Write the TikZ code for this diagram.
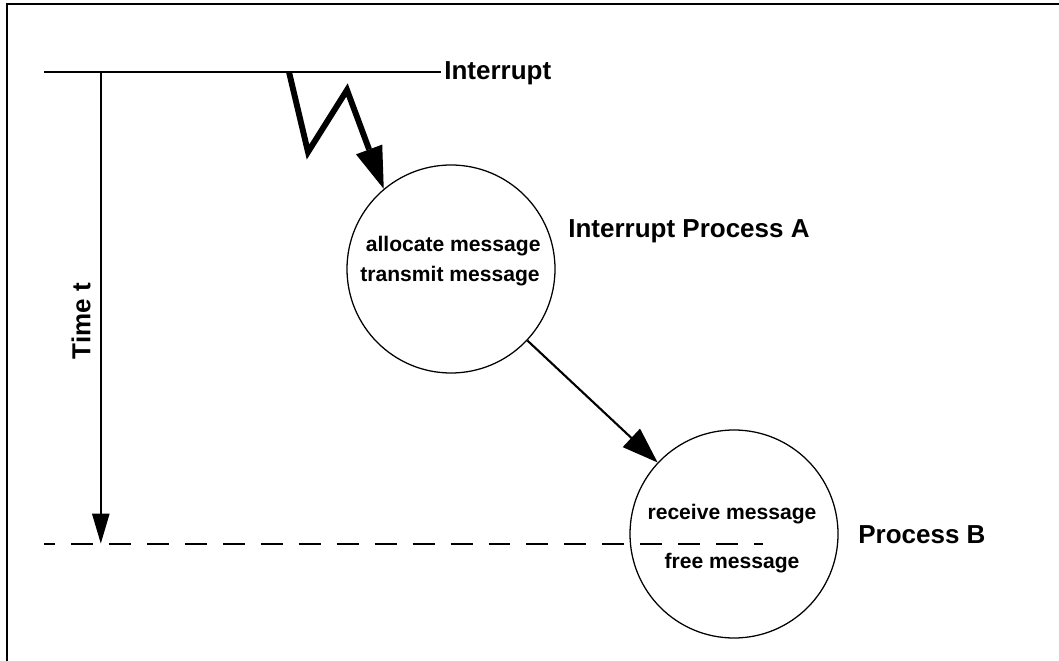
\documentclass[tikz,border=0pt]{standalone}
\usepackage{fontspec}
\setmainfont{Liberation Sans}
\usepackage{tikz}
\usetikzlibrary{arrows.meta, positioning, calc}

\begin{document}
\begin{tikzpicture}[y=-1cm,
    proc/.style={draw,circle,line width=0.9pt,minimum size=5.2cm,inner sep=0pt},
    lbl/.style={font=\fontsize{18.5}{22}\selectfont\bfseries,inner sep=0pt},
    msg/.style={font=\fontsize{15}{18}\selectfont\bfseries,inner sep=0pt,anchor=base}]
  \useasboundingbox (0,0) rectangle (26.475,16.525);
  \draw[line width=1.6pt] (0.175,0.1) rectangle (27,17);

  % interrupt line and time axis
  \coordinate (irqL) at (1.1,1.79);
  \coordinate (irqR) at (11.025,1.79);
  \draw[line width=1.4pt] (irqL) -- (irqR);
  \node[lbl,anchor=base west] (irq) at (11.1,1.98) {Interrupt};

  \coordinate (t0) at (2.52,1.79);
  \coordinate (t1) at (2.52,13.59);
  \draw[line width=1.4pt,-{Triangle[length=0.75cm,width=0.43cm]}] (t0) -- (t1);
  \node[lbl,rotate=90] (tlbl) at (2.025,8.025) {Time t};

  \coordinate (dashL) at (1.1,13.59);
  \coordinate (dashR) at (19.075,13.59);
  \draw[line width=1.5pt,dash pattern=on 15.6pt off 11.4pt,dash phase=7.8pt] (dashL) -- (dashR);

  % processes
  \node[proc] (procA) at (11.275,6.725) {};
  \node[msg] (alloc) at (11.33,6.3) {allocate message};
  \node[msg] (trans) at (11.25,7.04) {transmit message};
  \node[lbl,anchor=base west] (labA) at (14.2,5.95) {Interrupt Process A};

  \node[proc] (procB) at (18.35,13.35) {};
  \node[msg] (recv) at (18.3,12.975) {receive message};
  \node[msg] (free) at (18.3,14.2) {free message};
  \node[lbl,anchor=base west] (labB) at (21.45,13.575) {Process B};

  % interrupt bolt
  \coordinate (b0) at (7.225,1.8);
  \coordinate (b1) at (7.7,3.8);
  \coordinate (b2) at (8.675,2.25);
  \draw[line width=4.2pt,-{Triangle[length=1.05cm,width=0.7cm,line width=0pt]}]
    (b0) -- (b1) -- (b2) -- (procA.130);

  \draw[line width=1.5pt,-{Triangle[length=0.9cm,width=0.62cm]}] (procA) -- (procB);
\end{tikzpicture}
\end{document}
